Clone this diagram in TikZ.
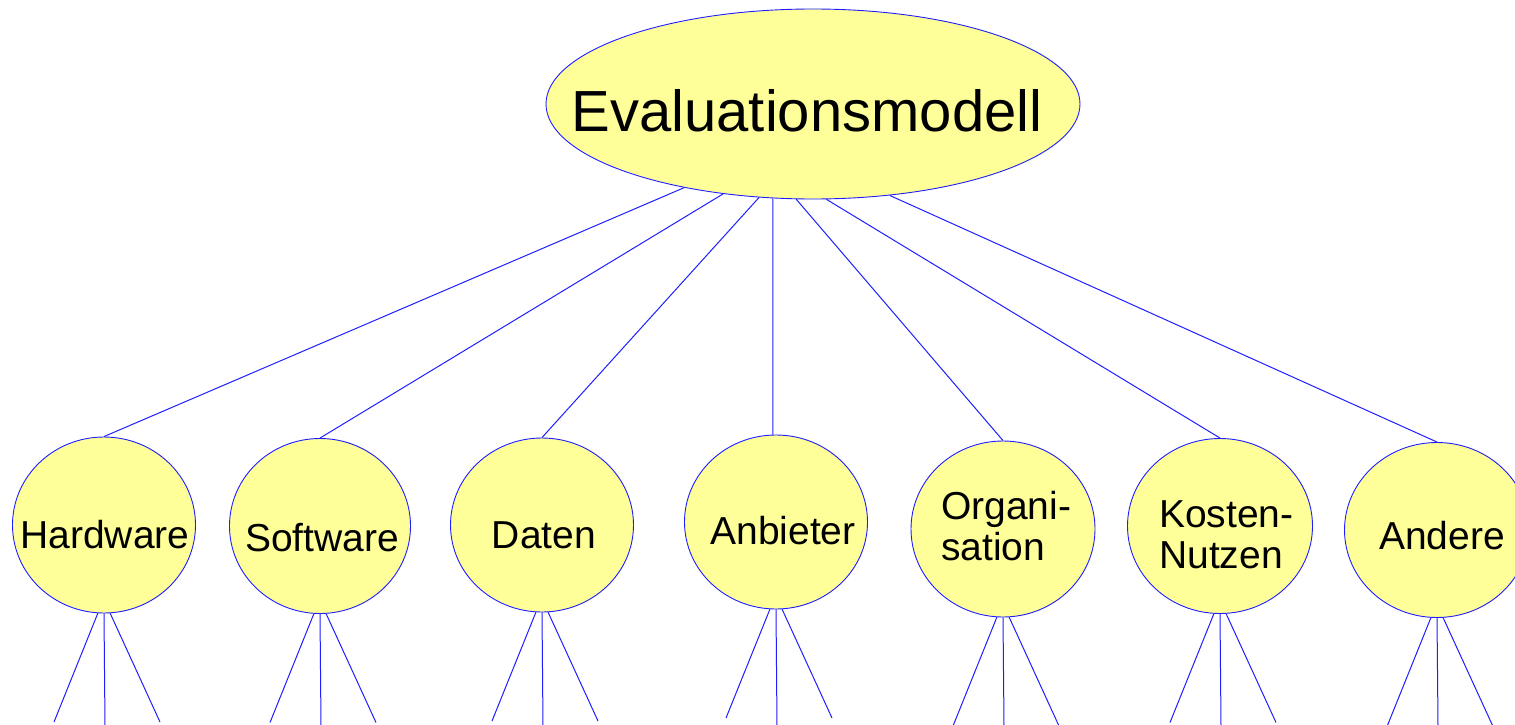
\documentclass[tikz,border=0pt]{standalone}
\usepackage{fontspec}
\setmainfont{Liberation Sans}
\usetikzlibrary{shapes.geometric}
\definecolor{nodefill}{RGB}{255,255,153}
\definecolor{edgeblue}{RGB}{30,30,255}
\begin{document}
\begin{tikzpicture}[x=1pt,y=-1pt,
  bubble/.style={ellipse, draw=edgeblue, fill=nodefill, line width=0.9pt, inner sep=0pt},
  link/.style={draw=edgeblue, line width=1pt},
  lbl/.style={font=\fontsize{39}{41}\selectfont, inner sep=0pt, anchor=base},
]
\useasboundingbox (0,0) rectangle (1515,725);

% root of the model
\node[bubble, minimum width=534pt, minimum height=190pt] (top) at (813,104) {};
\node[font=\fontsize{58}{60}\selectfont, inner sep=0pt, anchor=base] (toplbl) at (807,131) {Evaluationsmodell};

% criteria groups and their three sub-branches
\foreach \n/\x/\y/\w/\h in {hw/104/525/183/176, sw/320/526/181/175, da/542/525/183/174,
    an/776/522/183/174, or/1003/529/184/176, kn/1220/526/185/175, ad/1437/530/185/175} {
  \node[bubble, minimum width=\w pt, minimum height=\h pt] (\n) at (\x,\y) {};
  \coordinate (\n-l) at (\x-50, \y+\h/2+109);
  \coordinate (\n-m) at (\x+1, 726);
  \coordinate (\n-r) at (\x+56, \y+\h/2+109);
  \draw[link] (\n.266) -- (\n-l);
  \draw[link] (\n.south) -- (\n-m);
  \draw[link] (\n.274) -- (\n-r);
}

% group labels (multi-line labels are anchored at their last baseline)
\node[lbl] (hwlbl) at (105,548) {Hardware};
\node[lbl] (swlbl) at (322,551) {Software};
\node[lbl] (dalbl) at (544,548) {Daten};
\node[lbl] (anlbl) at (783,544) {Anbieter};
\node[lbl, align=left, anchor=base west] (orlbl) at (941,560) {Organi-\\sation};
\node[lbl, align=left, anchor=base west] (knlbl) at (1159,568) {Kosten-\\Nutzen};
\node[lbl] (adlbl) at (1442,549) {Andere};

% links from the root to each group
\draw[link] (top.213) -- (hw.north);
\draw[link] (top.225) -- (sw.north);
\draw[link] (top.240) -- (da.north);
\draw[link] (top.247) -- (an.92);
\draw[link] (top.260) -- (or.north);
\draw[link] (top.278) -- (kn.north);
\draw[link] (top.310) -- (ad.north);
\end{tikzpicture}
\end{document}
